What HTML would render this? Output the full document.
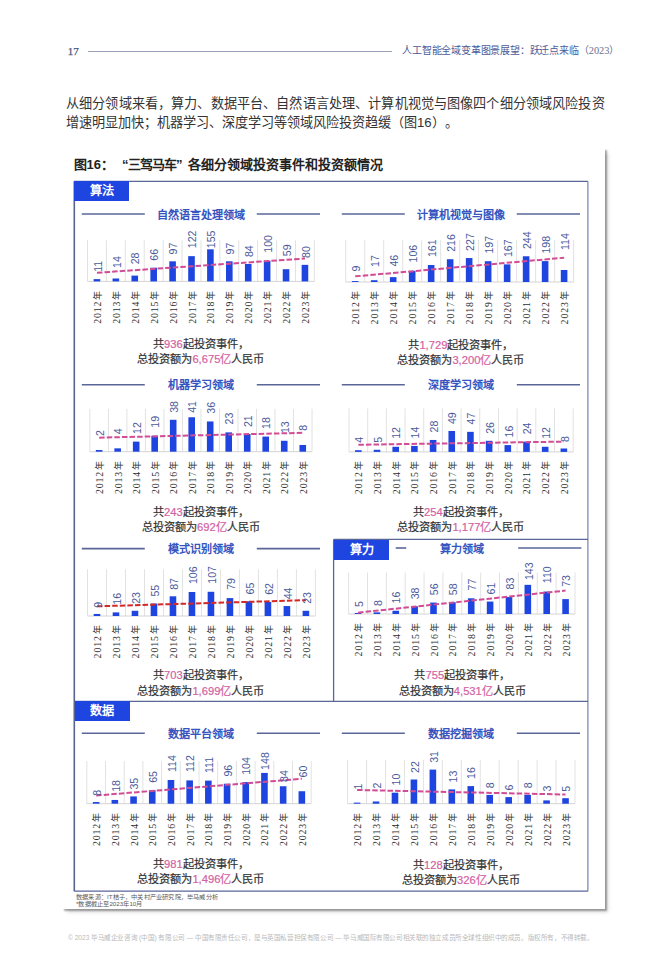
<!DOCTYPE html>
<html lang="zh-CN"><head><meta charset="utf-8"><style>
*{margin:0;padding:0;box-sizing:border-box}
html,body{width:670px;height:967px;background:#fff;overflow:hidden}
body{position:relative;font-family:"Liberation Sans",sans-serif;color:#333;text-spacing-trim:space-all}
.a{position:absolute;white-space:nowrap}
#hdr17{position:absolute;left:67.7px;top:46.2px;font:11px/1 "Liberation Serif",serif;color:#4a5680;-webkit-text-stroke:0.25px #4a5680}
#hdrline{position:absolute;left:88px;top:51px;width:304px;height:1.3px;background:#9ca1bc}
#hdrr{position:absolute;left:402.3px;top:45.5px;font-size:10px;letter-spacing:-0.2px;line-height:1;color:#4d5a98;white-space:nowrap}
#para{position:absolute;left:66px;top:95px;width:560px;font-size:13.15px;line-height:18.6px;letter-spacing:0.14px;color:#333;white-space:nowrap}
#card{position:absolute;left:62px;top:148px;width:543px;height:761px;background:#fff;box-shadow:2px 2px 1.5px rgba(0,0,0,.3), 4px 4px 4px -1px rgba(0,0,0,.16)}
.ft{position:absolute;top:157.5px;font-size:13px;font-weight:bold;color:#222;white-space:nowrap;line-height:1}
.lab{position:absolute;background:#1f45e0;color:#fff;font-weight:bold;font-size:12.2px;line-height:21px;text-align:center;width:55px;height:20px}
.pt{position:absolute;width:120px;text-align:center;font-size:11.1px;font-weight:bold;color:#3554c0;line-height:1;white-space:nowrap}
.sm{position:absolute;width:160px;text-align:center;font-size:11.2px;line-height:15.7px;-webkit-text-stroke:0.2px currentColor;color:#333;white-space:nowrap}
.pk{color:#d35fa3}
svg{position:absolute;left:0;top:0}
.vl{font-family:"Liberation Sans",sans-serif;font-size:10.6px;fill:#4a5a9c}
.yl{font-family:"Liberation Serif",serif;font-size:9.8px;letter-spacing:0.9px;fill:#2e2e2e}
#src{position:absolute;left:75.5px;top:893.3px;font-size:10px;line-height:12.2px;transform:scale(0.62);transform-origin:0 0;color:#5a5a5a;white-space:nowrap}
#foot{position:absolute;left:67.8px;top:935.4px;font-size:10px;line-height:1;transform:scale(0.658);transform-origin:0 0;color:#bababa;white-space:nowrap}
</style></head><body>
<div id="hdr17">17</div>
<div id="hdrline"></div>
<div id="hdrr">人工智能全域变革图景展望：跃迁点来临<span style="letter-spacing:0;color:#6a7090">（<span style="font-family:'Liberation Serif',serif;font-size:10.4px">2023</span>）</span></div>
<div id="para">从细分领域来看，算力、数据平台、自然语言处理、计算机视觉与图像四个细分领域风险投资<br><span style="letter-spacing:0">增速明显加快；机器学习、深度学习等领域风险投资趋缓（图16）。</span></div>
<div id="card"></div>
<div class="ft" style="left:73.5px">图16：</div><div class="ft" style="left:122px;letter-spacing:-0.9px">“三驾马车”</div><div class="ft" style="left:187.5px">各细分领域投资事件和投资额情况</div>
<svg width="670" height="967" viewBox="0 0 670 967">
<g fill="none" stroke="#5a6698" stroke-width="1.3">
<line x1="74.3" y1="181.3" x2="587.9" y2="181.3"/>
<line x1="74.3" y1="891.2" x2="587.9" y2="891.2"/>
<line x1="74.3" y1="181.3" x2="74.3" y2="891.2" stroke="#56648f" stroke-width="1.6"/>
<line x1="587.9" y1="181.3" x2="587.9" y2="891.2" stroke="#7880b0" stroke-width="1.2"/>
<line x1="333.6" y1="539.4" x2="587.9" y2="539.4"/>
<line x1="333.6" y1="539.4" x2="333.6" y2="701.3"/>
<line x1="74.5" y1="701.3" x2="587.9" y2="701.3"/>
</g>
<line x1="87.5" y1="240.2" x2="87.5" y2="281.4" stroke="#e2e2e2" stroke-width="1"/>
<line x1="106.41" y1="240.2" x2="106.41" y2="281.4" stroke="#e2e2e2" stroke-width="1"/>
<line x1="125.32" y1="240.2" x2="125.32" y2="281.4" stroke="#e2e2e2" stroke-width="1"/>
<line x1="144.22" y1="240.2" x2="144.22" y2="281.4" stroke="#e2e2e2" stroke-width="1"/>
<line x1="163.13" y1="240.2" x2="163.13" y2="281.4" stroke="#e2e2e2" stroke-width="1"/>
<line x1="182.04" y1="240.2" x2="182.04" y2="281.4" stroke="#e2e2e2" stroke-width="1"/>
<line x1="200.95" y1="240.2" x2="200.95" y2="281.4" stroke="#e2e2e2" stroke-width="1"/>
<line x1="219.86" y1="240.2" x2="219.86" y2="281.4" stroke="#e2e2e2" stroke-width="1"/>
<line x1="238.77" y1="240.2" x2="238.77" y2="281.4" stroke="#e2e2e2" stroke-width="1"/>
<line x1="257.67" y1="240.2" x2="257.67" y2="281.4" stroke="#e2e2e2" stroke-width="1"/>
<line x1="276.58" y1="240.2" x2="276.58" y2="281.4" stroke="#e2e2e2" stroke-width="1"/>
<line x1="295.49" y1="240.2" x2="295.49" y2="281.4" stroke="#e2e2e2" stroke-width="1"/>
<line x1="314.4" y1="240.2" x2="314.4" y2="281.4" stroke="#e2e2e2" stroke-width="1"/>
<line x1="87.5" y1="281.4" x2="314.4" y2="281.4" stroke="#d4d4d4" stroke-width="1"/>
<rect x="93.65" y="279.12" width="6.6" height="2.28" fill="#1f45e0"/>
<rect x="112.56" y="278.5" width="6.6" height="2.9" fill="#1f45e0"/>
<rect x="131.47" y="275.6" width="6.6" height="5.8" fill="#1f45e0"/>
<rect x="150.38" y="267.74" width="6.6" height="13.66" fill="#1f45e0"/>
<rect x="169.29" y="261.32" width="6.6" height="20.08" fill="#1f45e0"/>
<rect x="188.2" y="256.15" width="6.6" height="25.25" fill="#1f45e0"/>
<rect x="207.1" y="249.31" width="6.6" height="32.09" fill="#1f45e0"/>
<rect x="226.01" y="261.32" width="6.6" height="20.08" fill="#1f45e0"/>
<rect x="244.92" y="264.01" width="6.6" height="17.39" fill="#1f45e0"/>
<rect x="263.83" y="260.7" width="6.6" height="20.7" fill="#1f45e0"/>
<rect x="282.74" y="269.19" width="6.6" height="12.21" fill="#1f45e0"/>
<rect x="301.65" y="264.84" width="6.6" height="16.56" fill="#1f45e0"/>
<line x1="96.95" y1="272.78" x2="304.95" y2="258.52" stroke="#d24c94" stroke-width="2" stroke-dasharray="5.5 2.1"/>
<text transform="translate(101.65,271.8) rotate(-90)" class="vl">11</text>
<text transform="translate(120.56,267.9) rotate(-90)" class="vl">14</text>
<text transform="translate(139.47,264.3) rotate(-90)" class="vl">28</text>
<text transform="translate(158.38,260.7) rotate(-90)" class="vl">66</text>
<text transform="translate(177.29,254.5) rotate(-90)" class="vl">97</text>
<text transform="translate(196.2,248.2) rotate(-90)" class="vl">122</text>
<text transform="translate(215.1,248.2) rotate(-90)" class="vl">155</text>
<text transform="translate(234.01,254.5) rotate(-90)" class="vl">97</text>
<text transform="translate(252.92,257.1) rotate(-90)" class="vl">84</text>
<text transform="translate(271.83,252.7) rotate(-90)" class="vl">100</text>
<text transform="translate(290.74,256.2) rotate(-90)" class="vl">59</text>
<text transform="translate(309.65,258) rotate(-90)" class="vl">80</text>
<text transform="translate(100.95,289.7) rotate(-90)" class="yl" text-anchor="end">2012<tspan style="font-size:9px;font-family:sans-serif" dx="1">年</tspan></text>
<text transform="translate(119.86,289.7) rotate(-90)" class="yl" text-anchor="end">2013<tspan style="font-size:9px;font-family:sans-serif" dx="1">年</tspan></text>
<text transform="translate(138.77,289.7) rotate(-90)" class="yl" text-anchor="end">2014<tspan style="font-size:9px;font-family:sans-serif" dx="1">年</tspan></text>
<text transform="translate(157.68,289.7) rotate(-90)" class="yl" text-anchor="end">2015<tspan style="font-size:9px;font-family:sans-serif" dx="1">年</tspan></text>
<text transform="translate(176.59,289.7) rotate(-90)" class="yl" text-anchor="end">2016<tspan style="font-size:9px;font-family:sans-serif" dx="1">年</tspan></text>
<text transform="translate(195.5,289.7) rotate(-90)" class="yl" text-anchor="end">2017<tspan style="font-size:9px;font-family:sans-serif" dx="1">年</tspan></text>
<text transform="translate(214.4,289.7) rotate(-90)" class="yl" text-anchor="end">2018<tspan style="font-size:9px;font-family:sans-serif" dx="1">年</tspan></text>
<text transform="translate(233.31,289.7) rotate(-90)" class="yl" text-anchor="end">2019<tspan style="font-size:9px;font-family:sans-serif" dx="1">年</tspan></text>
<text transform="translate(252.22,289.7) rotate(-90)" class="yl" text-anchor="end">2020<tspan style="font-size:9px;font-family:sans-serif" dx="1">年</tspan></text>
<text transform="translate(271.13,289.7) rotate(-90)" class="yl" text-anchor="end">2021<tspan style="font-size:9px;font-family:sans-serif" dx="1">年</tspan></text>
<text transform="translate(290.04,289.7) rotate(-90)" class="yl" text-anchor="end">2022<tspan style="font-size:9px;font-family:sans-serif" dx="1">年</tspan></text>
<text transform="translate(308.95,289.7) rotate(-90)" class="yl" text-anchor="end">2023<tspan style="font-size:9px;font-family:sans-serif" dx="1">年</tspan></text>
<line x1="81.8" y1="214" x2="144.8" y2="214" stroke="#5a6698" stroke-width="1.6"/>
<line x1="256.8" y1="214" x2="320" y2="214" stroke="#5a6698" stroke-width="1.6"/>
<line x1="345.7" y1="240.1" x2="345.7" y2="282" stroke="#e2e2e2" stroke-width="1"/>
<line x1="364.69" y1="240.1" x2="364.69" y2="282" stroke="#e2e2e2" stroke-width="1"/>
<line x1="383.68" y1="240.1" x2="383.68" y2="282" stroke="#e2e2e2" stroke-width="1"/>
<line x1="402.68" y1="240.1" x2="402.68" y2="282" stroke="#e2e2e2" stroke-width="1"/>
<line x1="421.67" y1="240.1" x2="421.67" y2="282" stroke="#e2e2e2" stroke-width="1"/>
<line x1="440.66" y1="240.1" x2="440.66" y2="282" stroke="#e2e2e2" stroke-width="1"/>
<line x1="459.65" y1="240.1" x2="459.65" y2="282" stroke="#e2e2e2" stroke-width="1"/>
<line x1="478.64" y1="240.1" x2="478.64" y2="282" stroke="#e2e2e2" stroke-width="1"/>
<line x1="497.63" y1="240.1" x2="497.63" y2="282" stroke="#e2e2e2" stroke-width="1"/>
<line x1="516.62" y1="240.1" x2="516.62" y2="282" stroke="#e2e2e2" stroke-width="1"/>
<line x1="535.62" y1="240.1" x2="535.62" y2="282" stroke="#e2e2e2" stroke-width="1"/>
<line x1="554.61" y1="240.1" x2="554.61" y2="282" stroke="#e2e2e2" stroke-width="1"/>
<line x1="573.6" y1="240.1" x2="573.6" y2="282" stroke="#e2e2e2" stroke-width="1"/>
<line x1="345.7" y1="282" x2="573.6" y2="282" stroke="#d4d4d4" stroke-width="1"/>
<rect x="351.9" y="281.05" width="6.6" height="0.95" fill="#1f45e0"/>
<rect x="370.89" y="280.21" width="6.6" height="1.79" fill="#1f45e0"/>
<rect x="389.88" y="277.15" width="6.6" height="4.85" fill="#1f45e0"/>
<rect x="408.87" y="270.82" width="6.6" height="11.18" fill="#1f45e0"/>
<rect x="427.86" y="265.01" width="6.6" height="16.99" fill="#1f45e0"/>
<rect x="446.85" y="259.21" width="6.6" height="22.79" fill="#1f45e0"/>
<rect x="465.85" y="258.05" width="6.6" height="23.95" fill="#1f45e0"/>
<rect x="484.84" y="261.22" width="6.6" height="20.78" fill="#1f45e0"/>
<rect x="503.83" y="264.38" width="6.6" height="17.62" fill="#1f45e0"/>
<rect x="522.82" y="256.26" width="6.6" height="25.74" fill="#1f45e0"/>
<rect x="541.81" y="261.11" width="6.6" height="20.89" fill="#1f45e0"/>
<rect x="560.8" y="269.97" width="6.6" height="12.03" fill="#1f45e0"/>
<line x1="355.2" y1="276.36" x2="564.1" y2="257.72" stroke="#d24c94" stroke-width="2" stroke-dasharray="5.5 2.1"/>
<text transform="translate(359.9,271.5) rotate(-90)" class="vl">9</text>
<text transform="translate(378.89,267) rotate(-90)" class="vl">17</text>
<text transform="translate(397.88,266.6) rotate(-90)" class="vl">46</text>
<text transform="translate(416.87,262.5) rotate(-90)" class="vl">106</text>
<text transform="translate(435.86,257.1) rotate(-90)" class="vl">161</text>
<text transform="translate(454.85,251.8) rotate(-90)" class="vl">216</text>
<text transform="translate(473.85,250.9) rotate(-90)" class="vl">227</text>
<text transform="translate(492.84,253.6) rotate(-90)" class="vl">197</text>
<text transform="translate(511.83,257.1) rotate(-90)" class="vl">167</text>
<text transform="translate(530.82,249.1) rotate(-90)" class="vl">244</text>
<text transform="translate(549.81,253.6) rotate(-90)" class="vl">198</text>
<text transform="translate(568.8,250) rotate(-90)" class="vl">114</text>
<text transform="translate(359.2,290.3) rotate(-90)" class="yl" text-anchor="end">2012<tspan style="font-size:9px;font-family:sans-serif" dx="1">年</tspan></text>
<text transform="translate(378.19,290.3) rotate(-90)" class="yl" text-anchor="end">2013<tspan style="font-size:9px;font-family:sans-serif" dx="1">年</tspan></text>
<text transform="translate(397.18,290.3) rotate(-90)" class="yl" text-anchor="end">2014<tspan style="font-size:9px;font-family:sans-serif" dx="1">年</tspan></text>
<text transform="translate(416.17,290.3) rotate(-90)" class="yl" text-anchor="end">2015<tspan style="font-size:9px;font-family:sans-serif" dx="1">年</tspan></text>
<text transform="translate(435.16,290.3) rotate(-90)" class="yl" text-anchor="end">2016<tspan style="font-size:9px;font-family:sans-serif" dx="1">年</tspan></text>
<text transform="translate(454.15,290.3) rotate(-90)" class="yl" text-anchor="end">2017<tspan style="font-size:9px;font-family:sans-serif" dx="1">年</tspan></text>
<text transform="translate(473.15,290.3) rotate(-90)" class="yl" text-anchor="end">2018<tspan style="font-size:9px;font-family:sans-serif" dx="1">年</tspan></text>
<text transform="translate(492.14,290.3) rotate(-90)" class="yl" text-anchor="end">2019<tspan style="font-size:9px;font-family:sans-serif" dx="1">年</tspan></text>
<text transform="translate(511.13,290.3) rotate(-90)" class="yl" text-anchor="end">2020<tspan style="font-size:9px;font-family:sans-serif" dx="1">年</tspan></text>
<text transform="translate(530.12,290.3) rotate(-90)" class="yl" text-anchor="end">2021<tspan style="font-size:9px;font-family:sans-serif" dx="1">年</tspan></text>
<text transform="translate(549.11,290.3) rotate(-90)" class="yl" text-anchor="end">2022<tspan style="font-size:9px;font-family:sans-serif" dx="1">年</tspan></text>
<text transform="translate(568.1,290.3) rotate(-90)" class="yl" text-anchor="end">2023<tspan style="font-size:9px;font-family:sans-serif" dx="1">年</tspan></text>
<line x1="341.8" y1="214" x2="404.8" y2="214" stroke="#5a6698" stroke-width="1.6"/>
<line x1="516.8" y1="214" x2="580" y2="214" stroke="#5a6698" stroke-width="1.6"/>
<line x1="89.9" y1="408.8" x2="89.9" y2="451.7" stroke="#e2e2e2" stroke-width="1"/>
<line x1="108.41" y1="408.8" x2="108.41" y2="451.7" stroke="#e2e2e2" stroke-width="1"/>
<line x1="126.92" y1="408.8" x2="126.92" y2="451.7" stroke="#e2e2e2" stroke-width="1"/>
<line x1="145.43" y1="408.8" x2="145.43" y2="451.7" stroke="#e2e2e2" stroke-width="1"/>
<line x1="163.93" y1="408.8" x2="163.93" y2="451.7" stroke="#e2e2e2" stroke-width="1"/>
<line x1="182.44" y1="408.8" x2="182.44" y2="451.7" stroke="#e2e2e2" stroke-width="1"/>
<line x1="200.95" y1="408.8" x2="200.95" y2="451.7" stroke="#e2e2e2" stroke-width="1"/>
<line x1="219.46" y1="408.8" x2="219.46" y2="451.7" stroke="#e2e2e2" stroke-width="1"/>
<line x1="237.97" y1="408.8" x2="237.97" y2="451.7" stroke="#e2e2e2" stroke-width="1"/>
<line x1="256.48" y1="408.8" x2="256.48" y2="451.7" stroke="#e2e2e2" stroke-width="1"/>
<line x1="274.98" y1="408.8" x2="274.98" y2="451.7" stroke="#e2e2e2" stroke-width="1"/>
<line x1="293.49" y1="408.8" x2="293.49" y2="451.7" stroke="#e2e2e2" stroke-width="1"/>
<line x1="312" y1="408.8" x2="312" y2="451.7" stroke="#e2e2e2" stroke-width="1"/>
<line x1="89.9" y1="451.7" x2="312" y2="451.7" stroke="#d4d4d4" stroke-width="1"/>
<rect x="95.85" y="450.02" width="6.6" height="1.68" fill="#1f45e0"/>
<rect x="114.36" y="448.34" width="6.6" height="3.36" fill="#1f45e0"/>
<rect x="132.87" y="441.62" width="6.6" height="10.08" fill="#1f45e0"/>
<rect x="151.38" y="435.74" width="6.6" height="15.96" fill="#1f45e0"/>
<rect x="169.89" y="419.78" width="6.6" height="31.92" fill="#1f45e0"/>
<rect x="188.4" y="417.26" width="6.6" height="34.44" fill="#1f45e0"/>
<rect x="206.9" y="421.46" width="6.6" height="30.24" fill="#1f45e0"/>
<rect x="225.41" y="432.38" width="6.6" height="19.32" fill="#1f45e0"/>
<rect x="243.92" y="434.06" width="6.6" height="17.64" fill="#1f45e0"/>
<rect x="262.43" y="436.58" width="6.6" height="15.12" fill="#1f45e0"/>
<rect x="280.94" y="440.78" width="6.6" height="10.92" fill="#1f45e0"/>
<rect x="299.45" y="444.98" width="6.6" height="6.72" fill="#1f45e0"/>
<line x1="99.15" y1="437.66" x2="302.75" y2="432.84" stroke="#d24c94" stroke-width="2" stroke-dasharray="5.5 2.1"/>
<text transform="translate(103.85,436.1) rotate(-90)" class="vl">2</text>
<text transform="translate(122.36,434.3) rotate(-90)" class="vl">4</text>
<text transform="translate(140.87,434) rotate(-90)" class="vl">12</text>
<text transform="translate(159.38,427.7) rotate(-90)" class="vl">19</text>
<text transform="translate(177.89,412.8) rotate(-90)" class="vl">38</text>
<text transform="translate(196.4,412.8) rotate(-90)" class="vl">41</text>
<text transform="translate(214.9,413.7) rotate(-90)" class="vl">36</text>
<text transform="translate(233.41,424.5) rotate(-90)" class="vl">23</text>
<text transform="translate(251.92,427.1) rotate(-90)" class="vl">21</text>
<text transform="translate(270.43,428.9) rotate(-90)" class="vl">18</text>
<text transform="translate(288.94,433.1) rotate(-90)" class="vl">13</text>
<text transform="translate(307.45,430.8) rotate(-90)" class="vl">8</text>
<text transform="translate(103.15,460) rotate(-90)" class="yl" text-anchor="end">2012<tspan style="font-size:9px;font-family:sans-serif" dx="1">年</tspan></text>
<text transform="translate(121.66,460) rotate(-90)" class="yl" text-anchor="end">2013<tspan style="font-size:9px;font-family:sans-serif" dx="1">年</tspan></text>
<text transform="translate(140.17,460) rotate(-90)" class="yl" text-anchor="end">2014<tspan style="font-size:9px;font-family:sans-serif" dx="1">年</tspan></text>
<text transform="translate(158.68,460) rotate(-90)" class="yl" text-anchor="end">2015<tspan style="font-size:9px;font-family:sans-serif" dx="1">年</tspan></text>
<text transform="translate(177.19,460) rotate(-90)" class="yl" text-anchor="end">2016<tspan style="font-size:9px;font-family:sans-serif" dx="1">年</tspan></text>
<text transform="translate(195.7,460) rotate(-90)" class="yl" text-anchor="end">2017<tspan style="font-size:9px;font-family:sans-serif" dx="1">年</tspan></text>
<text transform="translate(214.2,460) rotate(-90)" class="yl" text-anchor="end">2018<tspan style="font-size:9px;font-family:sans-serif" dx="1">年</tspan></text>
<text transform="translate(232.71,460) rotate(-90)" class="yl" text-anchor="end">2019<tspan style="font-size:9px;font-family:sans-serif" dx="1">年</tspan></text>
<text transform="translate(251.22,460) rotate(-90)" class="yl" text-anchor="end">2020<tspan style="font-size:9px;font-family:sans-serif" dx="1">年</tspan></text>
<text transform="translate(269.73,460) rotate(-90)" class="yl" text-anchor="end">2021<tspan style="font-size:9px;font-family:sans-serif" dx="1">年</tspan></text>
<text transform="translate(288.24,460) rotate(-90)" class="yl" text-anchor="end">2022<tspan style="font-size:9px;font-family:sans-serif" dx="1">年</tspan></text>
<text transform="translate(306.75,460) rotate(-90)" class="yl" text-anchor="end">2023<tspan style="font-size:9px;font-family:sans-serif" dx="1">年</tspan></text>
<line x1="81.8" y1="384.7" x2="144.8" y2="384.7" stroke="#5a6698" stroke-width="1.6"/>
<line x1="256.8" y1="384.7" x2="320" y2="384.7" stroke="#5a6698" stroke-width="1.6"/>
<line x1="349" y1="408.4" x2="349" y2="451.9" stroke="#e2e2e2" stroke-width="1"/>
<line x1="367.68" y1="408.4" x2="367.68" y2="451.9" stroke="#e2e2e2" stroke-width="1"/>
<line x1="386.37" y1="408.4" x2="386.37" y2="451.9" stroke="#e2e2e2" stroke-width="1"/>
<line x1="405.05" y1="408.4" x2="405.05" y2="451.9" stroke="#e2e2e2" stroke-width="1"/>
<line x1="423.73" y1="408.4" x2="423.73" y2="451.9" stroke="#e2e2e2" stroke-width="1"/>
<line x1="442.42" y1="408.4" x2="442.42" y2="451.9" stroke="#e2e2e2" stroke-width="1"/>
<line x1="461.1" y1="408.4" x2="461.1" y2="451.9" stroke="#e2e2e2" stroke-width="1"/>
<line x1="479.78" y1="408.4" x2="479.78" y2="451.9" stroke="#e2e2e2" stroke-width="1"/>
<line x1="498.47" y1="408.4" x2="498.47" y2="451.9" stroke="#e2e2e2" stroke-width="1"/>
<line x1="517.15" y1="408.4" x2="517.15" y2="451.9" stroke="#e2e2e2" stroke-width="1"/>
<line x1="535.83" y1="408.4" x2="535.83" y2="451.9" stroke="#e2e2e2" stroke-width="1"/>
<line x1="554.52" y1="408.4" x2="554.52" y2="451.9" stroke="#e2e2e2" stroke-width="1"/>
<line x1="573.2" y1="408.4" x2="573.2" y2="451.9" stroke="#e2e2e2" stroke-width="1"/>
<line x1="349" y1="451.9" x2="573.2" y2="451.9" stroke="#d4d4d4" stroke-width="1"/>
<rect x="355.04" y="450.19" width="6.6" height="1.71" fill="#1f45e0"/>
<rect x="373.72" y="449.77" width="6.6" height="2.13" fill="#1f45e0"/>
<rect x="392.41" y="446.78" width="6.6" height="5.12" fill="#1f45e0"/>
<rect x="411.09" y="445.93" width="6.6" height="5.97" fill="#1f45e0"/>
<rect x="429.78" y="439.96" width="6.6" height="11.94" fill="#1f45e0"/>
<rect x="448.46" y="431" width="6.6" height="20.9" fill="#1f45e0"/>
<rect x="467.14" y="431.85" width="6.6" height="20.05" fill="#1f45e0"/>
<rect x="485.82" y="440.81" width="6.6" height="11.09" fill="#1f45e0"/>
<rect x="504.51" y="445.08" width="6.6" height="6.82" fill="#1f45e0"/>
<rect x="523.19" y="441.66" width="6.6" height="10.24" fill="#1f45e0"/>
<rect x="541.88" y="446.78" width="6.6" height="5.12" fill="#1f45e0"/>
<rect x="560.56" y="448.49" width="6.6" height="3.41" fill="#1f45e0"/>
<line x1="358.34" y1="444.78" x2="563.86" y2="441.61" stroke="#d24c94" stroke-width="2" stroke-dasharray="5.5 2.1"/>
<text transform="translate(363.04,442.7) rotate(-90)" class="vl">4</text>
<text transform="translate(381.72,442.7) rotate(-90)" class="vl">5</text>
<text transform="translate(400.41,438.8) rotate(-90)" class="vl">12</text>
<text transform="translate(419.09,438.4) rotate(-90)" class="vl">14</text>
<text transform="translate(437.78,432.5) rotate(-90)" class="vl">28</text>
<text transform="translate(456.46,424.1) rotate(-90)" class="vl">49</text>
<text transform="translate(475.14,424.5) rotate(-90)" class="vl">47</text>
<text transform="translate(493.82,433.8) rotate(-90)" class="vl">26</text>
<text transform="translate(512.51,437.4) rotate(-90)" class="vl">16</text>
<text transform="translate(531.19,434.3) rotate(-90)" class="vl">24</text>
<text transform="translate(549.88,438.8) rotate(-90)" class="vl">12</text>
<text transform="translate(568.56,442) rotate(-90)" class="vl">8</text>
<text transform="translate(362.34,460.2) rotate(-90)" class="yl" text-anchor="end">2012<tspan style="font-size:9px;font-family:sans-serif" dx="1">年</tspan></text>
<text transform="translate(381.02,460.2) rotate(-90)" class="yl" text-anchor="end">2013<tspan style="font-size:9px;font-family:sans-serif" dx="1">年</tspan></text>
<text transform="translate(399.71,460.2) rotate(-90)" class="yl" text-anchor="end">2014<tspan style="font-size:9px;font-family:sans-serif" dx="1">年</tspan></text>
<text transform="translate(418.39,460.2) rotate(-90)" class="yl" text-anchor="end">2015<tspan style="font-size:9px;font-family:sans-serif" dx="1">年</tspan></text>
<text transform="translate(437.08,460.2) rotate(-90)" class="yl" text-anchor="end">2016<tspan style="font-size:9px;font-family:sans-serif" dx="1">年</tspan></text>
<text transform="translate(455.76,460.2) rotate(-90)" class="yl" text-anchor="end">2017<tspan style="font-size:9px;font-family:sans-serif" dx="1">年</tspan></text>
<text transform="translate(474.44,460.2) rotate(-90)" class="yl" text-anchor="end">2018<tspan style="font-size:9px;font-family:sans-serif" dx="1">年</tspan></text>
<text transform="translate(493.12,460.2) rotate(-90)" class="yl" text-anchor="end">2019<tspan style="font-size:9px;font-family:sans-serif" dx="1">年</tspan></text>
<text transform="translate(511.81,460.2) rotate(-90)" class="yl" text-anchor="end">2020<tspan style="font-size:9px;font-family:sans-serif" dx="1">年</tspan></text>
<text transform="translate(530.49,460.2) rotate(-90)" class="yl" text-anchor="end">2021<tspan style="font-size:9px;font-family:sans-serif" dx="1">年</tspan></text>
<text transform="translate(549.18,460.2) rotate(-90)" class="yl" text-anchor="end">2022<tspan style="font-size:9px;font-family:sans-serif" dx="1">年</tspan></text>
<text transform="translate(567.86,460.2) rotate(-90)" class="yl" text-anchor="end">2023<tspan style="font-size:9px;font-family:sans-serif" dx="1">年</tspan></text>
<line x1="341.8" y1="384.7" x2="404.8" y2="384.7" stroke="#5a6698" stroke-width="1.6"/>
<line x1="516.8" y1="384.7" x2="580" y2="384.7" stroke="#5a6698" stroke-width="1.6"/>
<line x1="87.5" y1="569.3" x2="87.5" y2="616" stroke="#e2e2e2" stroke-width="1"/>
<line x1="106.49" y1="569.3" x2="106.49" y2="616" stroke="#e2e2e2" stroke-width="1"/>
<line x1="125.48" y1="569.3" x2="125.48" y2="616" stroke="#e2e2e2" stroke-width="1"/>
<line x1="144.47" y1="569.3" x2="144.47" y2="616" stroke="#e2e2e2" stroke-width="1"/>
<line x1="163.47" y1="569.3" x2="163.47" y2="616" stroke="#e2e2e2" stroke-width="1"/>
<line x1="182.46" y1="569.3" x2="182.46" y2="616" stroke="#e2e2e2" stroke-width="1"/>
<line x1="201.45" y1="569.3" x2="201.45" y2="616" stroke="#e2e2e2" stroke-width="1"/>
<line x1="220.44" y1="569.3" x2="220.44" y2="616" stroke="#e2e2e2" stroke-width="1"/>
<line x1="239.43" y1="569.3" x2="239.43" y2="616" stroke="#e2e2e2" stroke-width="1"/>
<line x1="258.42" y1="569.3" x2="258.42" y2="616" stroke="#e2e2e2" stroke-width="1"/>
<line x1="277.42" y1="569.3" x2="277.42" y2="616" stroke="#e2e2e2" stroke-width="1"/>
<line x1="296.41" y1="569.3" x2="296.41" y2="616" stroke="#e2e2e2" stroke-width="1"/>
<line x1="315.4" y1="569.3" x2="315.4" y2="616" stroke="#e2e2e2" stroke-width="1"/>
<line x1="87.5" y1="616" x2="315.4" y2="616" stroke="#d4d4d4" stroke-width="1"/>
<rect x="93.7" y="613.96" width="6.6" height="2.04" fill="#1f45e0"/>
<rect x="112.69" y="612.38" width="6.6" height="3.62" fill="#1f45e0"/>
<rect x="131.68" y="610.79" width="6.6" height="5.21" fill="#1f45e0"/>
<rect x="150.67" y="603.55" width="6.6" height="12.45" fill="#1f45e0"/>
<rect x="169.66" y="596.3" width="6.6" height="19.7" fill="#1f45e0"/>
<rect x="188.65" y="592" width="6.6" height="24" fill="#1f45e0"/>
<rect x="207.65" y="591.78" width="6.6" height="24.22" fill="#1f45e0"/>
<rect x="226.64" y="598.11" width="6.6" height="17.89" fill="#1f45e0"/>
<rect x="245.63" y="601.28" width="6.6" height="14.72" fill="#1f45e0"/>
<rect x="264.62" y="601.96" width="6.6" height="14.04" fill="#1f45e0"/>
<rect x="283.61" y="606.04" width="6.6" height="9.96" fill="#1f45e0"/>
<rect x="302.6" y="610.79" width="6.6" height="5.21" fill="#1f45e0"/>
<line x1="97" y1="606.32" x2="305.9" y2="600.17" stroke="#d42828" stroke-width="2" stroke-dasharray="5.5 2.1"/>
<text transform="translate(101.7,607.7) rotate(-90)" class="vl">9</text>
<text transform="translate(120.69,604.7) rotate(-90)" class="vl">16</text>
<text transform="translate(139.68,603.8) rotate(-90)" class="vl">23</text>
<text transform="translate(158.67,596.6) rotate(-90)" class="vl">55</text>
<text transform="translate(177.66,589.8) rotate(-90)" class="vl">87</text>
<text transform="translate(196.65,584.1) rotate(-90)" class="vl">106</text>
<text transform="translate(215.65,583.7) rotate(-90)" class="vl">107</text>
<text transform="translate(234.64,589.8) rotate(-90)" class="vl">79</text>
<text transform="translate(253.63,594.5) rotate(-90)" class="vl">65</text>
<text transform="translate(272.62,594.8) rotate(-90)" class="vl">62</text>
<text transform="translate(291.61,599.3) rotate(-90)" class="vl">44</text>
<text transform="translate(310.6,603.8) rotate(-90)" class="vl">23</text>
<text transform="translate(101,624.3) rotate(-90)" class="yl" text-anchor="end">2012<tspan style="font-size:9px;font-family:sans-serif" dx="1">年</tspan></text>
<text transform="translate(119.99,624.3) rotate(-90)" class="yl" text-anchor="end">2013<tspan style="font-size:9px;font-family:sans-serif" dx="1">年</tspan></text>
<text transform="translate(138.98,624.3) rotate(-90)" class="yl" text-anchor="end">2014<tspan style="font-size:9px;font-family:sans-serif" dx="1">年</tspan></text>
<text transform="translate(157.97,624.3) rotate(-90)" class="yl" text-anchor="end">2015<tspan style="font-size:9px;font-family:sans-serif" dx="1">年</tspan></text>
<text transform="translate(176.96,624.3) rotate(-90)" class="yl" text-anchor="end">2016<tspan style="font-size:9px;font-family:sans-serif" dx="1">年</tspan></text>
<text transform="translate(195.95,624.3) rotate(-90)" class="yl" text-anchor="end">2017<tspan style="font-size:9px;font-family:sans-serif" dx="1">年</tspan></text>
<text transform="translate(214.95,624.3) rotate(-90)" class="yl" text-anchor="end">2018<tspan style="font-size:9px;font-family:sans-serif" dx="1">年</tspan></text>
<text transform="translate(233.94,624.3) rotate(-90)" class="yl" text-anchor="end">2019<tspan style="font-size:9px;font-family:sans-serif" dx="1">年</tspan></text>
<text transform="translate(252.93,624.3) rotate(-90)" class="yl" text-anchor="end">2020<tspan style="font-size:9px;font-family:sans-serif" dx="1">年</tspan></text>
<text transform="translate(271.92,624.3) rotate(-90)" class="yl" text-anchor="end">2021<tspan style="font-size:9px;font-family:sans-serif" dx="1">年</tspan></text>
<text transform="translate(290.91,624.3) rotate(-90)" class="yl" text-anchor="end">2022<tspan style="font-size:9px;font-family:sans-serif" dx="1">年</tspan></text>
<text transform="translate(309.9,624.3) rotate(-90)" class="yl" text-anchor="end">2023<tspan style="font-size:9px;font-family:sans-serif" dx="1">年</tspan></text>
<line x1="81.8" y1="548.6" x2="144.8" y2="548.6" stroke="#5a6698" stroke-width="1.6"/>
<line x1="256.8" y1="548.6" x2="320" y2="548.6" stroke="#5a6698" stroke-width="1.6"/>
<line x1="348.6" y1="572.5" x2="348.6" y2="614" stroke="#e2e2e2" stroke-width="1"/>
<line x1="367.47" y1="572.5" x2="367.47" y2="614" stroke="#e2e2e2" stroke-width="1"/>
<line x1="386.33" y1="572.5" x2="386.33" y2="614" stroke="#e2e2e2" stroke-width="1"/>
<line x1="405.2" y1="572.5" x2="405.2" y2="614" stroke="#e2e2e2" stroke-width="1"/>
<line x1="424.07" y1="572.5" x2="424.07" y2="614" stroke="#e2e2e2" stroke-width="1"/>
<line x1="442.93" y1="572.5" x2="442.93" y2="614" stroke="#e2e2e2" stroke-width="1"/>
<line x1="461.8" y1="572.5" x2="461.8" y2="614" stroke="#e2e2e2" stroke-width="1"/>
<line x1="480.67" y1="572.5" x2="480.67" y2="614" stroke="#e2e2e2" stroke-width="1"/>
<line x1="499.53" y1="572.5" x2="499.53" y2="614" stroke="#e2e2e2" stroke-width="1"/>
<line x1="518.4" y1="572.5" x2="518.4" y2="614" stroke="#e2e2e2" stroke-width="1"/>
<line x1="537.27" y1="572.5" x2="537.27" y2="614" stroke="#e2e2e2" stroke-width="1"/>
<line x1="556.13" y1="572.5" x2="556.13" y2="614" stroke="#e2e2e2" stroke-width="1"/>
<line x1="575" y1="572.5" x2="575" y2="614" stroke="#e2e2e2" stroke-width="1"/>
<line x1="348.6" y1="614" x2="575" y2="614" stroke="#d4d4d4" stroke-width="1"/>
<rect x="354.73" y="612.98" width="6.6" height="1.02" fill="#1f45e0"/>
<rect x="373.6" y="612.37" width="6.6" height="1.63" fill="#1f45e0"/>
<rect x="392.47" y="610.74" width="6.6" height="3.26" fill="#1f45e0"/>
<rect x="411.33" y="606.25" width="6.6" height="7.75" fill="#1f45e0"/>
<rect x="430.2" y="602.58" width="6.6" height="11.42" fill="#1f45e0"/>
<rect x="449.07" y="602.17" width="6.6" height="11.83" fill="#1f45e0"/>
<rect x="467.93" y="598.29" width="6.6" height="15.71" fill="#1f45e0"/>
<rect x="486.8" y="601.56" width="6.6" height="12.44" fill="#1f45e0"/>
<rect x="505.67" y="597.07" width="6.6" height="16.93" fill="#1f45e0"/>
<rect x="524.53" y="584.83" width="6.6" height="29.17" fill="#1f45e0"/>
<rect x="543.4" y="591.56" width="6.6" height="22.44" fill="#1f45e0"/>
<rect x="562.27" y="599.11" width="6.6" height="14.89" fill="#1f45e0"/>
<line x1="358.03" y1="612.66" x2="565.57" y2="590.58" stroke="#d24c94" stroke-width="2" stroke-dasharray="5.5 2.1"/>
<text transform="translate(362.73,607) rotate(-90)" class="vl">5</text>
<text transform="translate(381.6,605.9) rotate(-90)" class="vl">8</text>
<text transform="translate(400.47,603.4) rotate(-90)" class="vl">16</text>
<text transform="translate(419.33,599.3) rotate(-90)" class="vl">38</text>
<text transform="translate(438.2,595.2) rotate(-90)" class="vl">56</text>
<text transform="translate(457.07,595.2) rotate(-90)" class="vl">58</text>
<text transform="translate(475.93,590.4) rotate(-90)" class="vl">77</text>
<text transform="translate(494.8,594.5) rotate(-90)" class="vl">61</text>
<text transform="translate(513.67,589.5) rotate(-90)" class="vl">83</text>
<text transform="translate(532.53,580.1) rotate(-90)" class="vl">143</text>
<text transform="translate(551.4,583.2) rotate(-90)" class="vl">110</text>
<text transform="translate(570.27,586.8) rotate(-90)" class="vl">73</text>
<text transform="translate(362.03,622.3) rotate(-90)" class="yl" text-anchor="end">2012<tspan style="font-size:9px;font-family:sans-serif" dx="1">年</tspan></text>
<text transform="translate(380.9,622.3) rotate(-90)" class="yl" text-anchor="end">2013<tspan style="font-size:9px;font-family:sans-serif" dx="1">年</tspan></text>
<text transform="translate(399.77,622.3) rotate(-90)" class="yl" text-anchor="end">2014<tspan style="font-size:9px;font-family:sans-serif" dx="1">年</tspan></text>
<text transform="translate(418.63,622.3) rotate(-90)" class="yl" text-anchor="end">2015<tspan style="font-size:9px;font-family:sans-serif" dx="1">年</tspan></text>
<text transform="translate(437.5,622.3) rotate(-90)" class="yl" text-anchor="end">2016<tspan style="font-size:9px;font-family:sans-serif" dx="1">年</tspan></text>
<text transform="translate(456.37,622.3) rotate(-90)" class="yl" text-anchor="end">2017<tspan style="font-size:9px;font-family:sans-serif" dx="1">年</tspan></text>
<text transform="translate(475.23,622.3) rotate(-90)" class="yl" text-anchor="end">2018<tspan style="font-size:9px;font-family:sans-serif" dx="1">年</tspan></text>
<text transform="translate(494.1,622.3) rotate(-90)" class="yl" text-anchor="end">2019<tspan style="font-size:9px;font-family:sans-serif" dx="1">年</tspan></text>
<text transform="translate(512.97,622.3) rotate(-90)" class="yl" text-anchor="end">2020<tspan style="font-size:9px;font-family:sans-serif" dx="1">年</tspan></text>
<text transform="translate(531.83,622.3) rotate(-90)" class="yl" text-anchor="end">2021<tspan style="font-size:9px;font-family:sans-serif" dx="1">年</tspan></text>
<text transform="translate(550.7,622.3) rotate(-90)" class="yl" text-anchor="end">2022<tspan style="font-size:9px;font-family:sans-serif" dx="1">年</tspan></text>
<text transform="translate(569.57,622.3) rotate(-90)" class="yl" text-anchor="end">2023<tspan style="font-size:9px;font-family:sans-serif" dx="1">年</tspan></text>
<line x1="395.7" y1="548" x2="406.2" y2="548" stroke="#5a6698" stroke-width="1.6"/>
<line x1="518.2" y1="548" x2="581.4" y2="548" stroke="#5a6698" stroke-width="1.6"/>
<line x1="86.8" y1="761.1" x2="86.8" y2="803.7" stroke="#e2e2e2" stroke-width="1"/>
<line x1="105.5" y1="761.1" x2="105.5" y2="803.7" stroke="#e2e2e2" stroke-width="1"/>
<line x1="124.2" y1="761.1" x2="124.2" y2="803.7" stroke="#e2e2e2" stroke-width="1"/>
<line x1="142.9" y1="761.1" x2="142.9" y2="803.7" stroke="#e2e2e2" stroke-width="1"/>
<line x1="161.6" y1="761.1" x2="161.6" y2="803.7" stroke="#e2e2e2" stroke-width="1"/>
<line x1="180.3" y1="761.1" x2="180.3" y2="803.7" stroke="#e2e2e2" stroke-width="1"/>
<line x1="199" y1="761.1" x2="199" y2="803.7" stroke="#e2e2e2" stroke-width="1"/>
<line x1="217.7" y1="761.1" x2="217.7" y2="803.7" stroke="#e2e2e2" stroke-width="1"/>
<line x1="236.4" y1="761.1" x2="236.4" y2="803.7" stroke="#e2e2e2" stroke-width="1"/>
<line x1="255.1" y1="761.1" x2="255.1" y2="803.7" stroke="#e2e2e2" stroke-width="1"/>
<line x1="273.8" y1="761.1" x2="273.8" y2="803.7" stroke="#e2e2e2" stroke-width="1"/>
<line x1="292.5" y1="761.1" x2="292.5" y2="803.7" stroke="#e2e2e2" stroke-width="1"/>
<line x1="311.2" y1="761.1" x2="311.2" y2="803.7" stroke="#e2e2e2" stroke-width="1"/>
<line x1="86.8" y1="803.7" x2="311.2" y2="803.7" stroke="#d4d4d4" stroke-width="1"/>
<rect x="92.85" y="802.04" width="6.6" height="1.66" fill="#1f45e0"/>
<rect x="111.55" y="799.96" width="6.6" height="3.74" fill="#1f45e0"/>
<rect x="130.25" y="796.42" width="6.6" height="7.28" fill="#1f45e0"/>
<rect x="148.95" y="790.18" width="6.6" height="13.52" fill="#1f45e0"/>
<rect x="167.65" y="779.99" width="6.6" height="23.71" fill="#1f45e0"/>
<rect x="186.35" y="780.4" width="6.6" height="23.3" fill="#1f45e0"/>
<rect x="205.05" y="780.61" width="6.6" height="23.09" fill="#1f45e0"/>
<rect x="223.75" y="783.73" width="6.6" height="19.97" fill="#1f45e0"/>
<rect x="242.45" y="782.07" width="6.6" height="21.63" fill="#1f45e0"/>
<rect x="261.15" y="772.92" width="6.6" height="30.78" fill="#1f45e0"/>
<rect x="279.85" y="786.23" width="6.6" height="17.47" fill="#1f45e0"/>
<rect x="298.55" y="791.22" width="6.6" height="12.48" fill="#1f45e0"/>
<line x1="96.15" y1="795.53" x2="301.85" y2="778.76" stroke="#d24c94" stroke-width="2" stroke-dasharray="5.5 2.1"/>
<text transform="translate(100.85,795.7) rotate(-90)" class="vl">8</text>
<text transform="translate(119.55,791.8) rotate(-90)" class="vl">18</text>
<text transform="translate(138.25,789.6) rotate(-90)" class="vl">35</text>
<text transform="translate(156.95,782.8) rotate(-90)" class="vl">65</text>
<text transform="translate(175.65,772.1) rotate(-90)" class="vl">114</text>
<text transform="translate(194.35,772.1) rotate(-90)" class="vl">112</text>
<text transform="translate(213.05,773) rotate(-90)" class="vl">111</text>
<text transform="translate(231.75,776.6) rotate(-90)" class="vl">96</text>
<text transform="translate(250.45,774.8) rotate(-90)" class="vl">104</text>
<text transform="translate(269.15,769.9) rotate(-90)" class="vl">148</text>
<text transform="translate(287.85,781.9) rotate(-90)" class="vl">84</text>
<text transform="translate(306.55,777.5) rotate(-90)" class="vl">60</text>
<text transform="translate(100.15,812) rotate(-90)" class="yl" text-anchor="end">2012<tspan style="font-size:9px;font-family:sans-serif" dx="1">年</tspan></text>
<text transform="translate(118.85,812) rotate(-90)" class="yl" text-anchor="end">2013<tspan style="font-size:9px;font-family:sans-serif" dx="1">年</tspan></text>
<text transform="translate(137.55,812) rotate(-90)" class="yl" text-anchor="end">2014<tspan style="font-size:9px;font-family:sans-serif" dx="1">年</tspan></text>
<text transform="translate(156.25,812) rotate(-90)" class="yl" text-anchor="end">2015<tspan style="font-size:9px;font-family:sans-serif" dx="1">年</tspan></text>
<text transform="translate(174.95,812) rotate(-90)" class="yl" text-anchor="end">2016<tspan style="font-size:9px;font-family:sans-serif" dx="1">年</tspan></text>
<text transform="translate(193.65,812) rotate(-90)" class="yl" text-anchor="end">2017<tspan style="font-size:9px;font-family:sans-serif" dx="1">年</tspan></text>
<text transform="translate(212.35,812) rotate(-90)" class="yl" text-anchor="end">2018<tspan style="font-size:9px;font-family:sans-serif" dx="1">年</tspan></text>
<text transform="translate(231.05,812) rotate(-90)" class="yl" text-anchor="end">2019<tspan style="font-size:9px;font-family:sans-serif" dx="1">年</tspan></text>
<text transform="translate(249.75,812) rotate(-90)" class="yl" text-anchor="end">2020<tspan style="font-size:9px;font-family:sans-serif" dx="1">年</tspan></text>
<text transform="translate(268.45,812) rotate(-90)" class="yl" text-anchor="end">2021<tspan style="font-size:9px;font-family:sans-serif" dx="1">年</tspan></text>
<text transform="translate(287.15,812) rotate(-90)" class="yl" text-anchor="end">2022<tspan style="font-size:9px;font-family:sans-serif" dx="1">年</tspan></text>
<text transform="translate(305.85,812) rotate(-90)" class="yl" text-anchor="end">2023<tspan style="font-size:9px;font-family:sans-serif" dx="1">年</tspan></text>
<line x1="81.8" y1="733.2" x2="144.8" y2="733.2" stroke="#5a6698" stroke-width="1.6"/>
<line x1="256.8" y1="733.2" x2="320" y2="733.2" stroke="#5a6698" stroke-width="1.6"/>
<line x1="347.6" y1="759.8" x2="347.6" y2="803.7" stroke="#e2e2e2" stroke-width="1"/>
<line x1="366.55" y1="759.8" x2="366.55" y2="803.7" stroke="#e2e2e2" stroke-width="1"/>
<line x1="385.5" y1="759.8" x2="385.5" y2="803.7" stroke="#e2e2e2" stroke-width="1"/>
<line x1="404.45" y1="759.8" x2="404.45" y2="803.7" stroke="#e2e2e2" stroke-width="1"/>
<line x1="423.4" y1="759.8" x2="423.4" y2="803.7" stroke="#e2e2e2" stroke-width="1"/>
<line x1="442.35" y1="759.8" x2="442.35" y2="803.7" stroke="#e2e2e2" stroke-width="1"/>
<line x1="461.3" y1="759.8" x2="461.3" y2="803.7" stroke="#e2e2e2" stroke-width="1"/>
<line x1="480.25" y1="759.8" x2="480.25" y2="803.7" stroke="#e2e2e2" stroke-width="1"/>
<line x1="499.2" y1="759.8" x2="499.2" y2="803.7" stroke="#e2e2e2" stroke-width="1"/>
<line x1="518.15" y1="759.8" x2="518.15" y2="803.7" stroke="#e2e2e2" stroke-width="1"/>
<line x1="537.1" y1="759.8" x2="537.1" y2="803.7" stroke="#e2e2e2" stroke-width="1"/>
<line x1="556.05" y1="759.8" x2="556.05" y2="803.7" stroke="#e2e2e2" stroke-width="1"/>
<line x1="575" y1="759.8" x2="575" y2="803.7" stroke="#e2e2e2" stroke-width="1"/>
<line x1="347.6" y1="803.7" x2="575" y2="803.7" stroke="#d4d4d4" stroke-width="1"/>
<rect x="353.78" y="802.6" width="6.6" height="1.1" fill="#1f45e0"/>
<rect x="372.73" y="801.5" width="6.6" height="2.2" fill="#1f45e0"/>
<rect x="391.68" y="792.7" width="6.6" height="11" fill="#1f45e0"/>
<rect x="410.62" y="779.5" width="6.6" height="24.2" fill="#1f45e0"/>
<rect x="429.57" y="769.6" width="6.6" height="34.1" fill="#1f45e0"/>
<rect x="448.53" y="789.4" width="6.6" height="14.3" fill="#1f45e0"/>
<rect x="467.48" y="786.1" width="6.6" height="17.6" fill="#1f45e0"/>
<rect x="486.43" y="794.9" width="6.6" height="8.8" fill="#1f45e0"/>
<rect x="505.38" y="797.1" width="6.6" height="6.6" fill="#1f45e0"/>
<rect x="524.33" y="794.9" width="6.6" height="8.8" fill="#1f45e0"/>
<rect x="543.28" y="800.4" width="6.6" height="3.3" fill="#1f45e0"/>
<rect x="562.23" y="798.2" width="6.6" height="5.5" fill="#1f45e0"/>
<line x1="357.08" y1="789.98" x2="565.52" y2="794.51" stroke="#d24c94" stroke-width="2" stroke-dasharray="5.5 2.1"/>
<text transform="translate(361.78,789.6) rotate(-90)" class="vl">1</text>
<text transform="translate(380.73,788.6) rotate(-90)" class="vl">2</text>
<text transform="translate(399.68,785.5) rotate(-90)" class="vl">10</text>
<text transform="translate(418.62,773) rotate(-90)" class="vl">22</text>
<text transform="translate(437.57,762.8) rotate(-90)" class="vl">31</text>
<text transform="translate(456.53,782.5) rotate(-90)" class="vl">13</text>
<text transform="translate(475.48,778.9) rotate(-90)" class="vl">16</text>
<text transform="translate(494.43,788.2) rotate(-90)" class="vl">8</text>
<text transform="translate(513.38,790.4) rotate(-90)" class="vl">6</text>
<text transform="translate(532.33,788.2) rotate(-90)" class="vl">8</text>
<text transform="translate(551.28,791.4) rotate(-90)" class="vl">3</text>
<text transform="translate(570.23,791.8) rotate(-90)" class="vl">5</text>
<text transform="translate(361.08,812) rotate(-90)" class="yl" text-anchor="end">2012<tspan style="font-size:9px;font-family:sans-serif" dx="1">年</tspan></text>
<text transform="translate(380.03,812) rotate(-90)" class="yl" text-anchor="end">2013<tspan style="font-size:9px;font-family:sans-serif" dx="1">年</tspan></text>
<text transform="translate(398.98,812) rotate(-90)" class="yl" text-anchor="end">2014<tspan style="font-size:9px;font-family:sans-serif" dx="1">年</tspan></text>
<text transform="translate(417.93,812) rotate(-90)" class="yl" text-anchor="end">2015<tspan style="font-size:9px;font-family:sans-serif" dx="1">年</tspan></text>
<text transform="translate(436.88,812) rotate(-90)" class="yl" text-anchor="end">2016<tspan style="font-size:9px;font-family:sans-serif" dx="1">年</tspan></text>
<text transform="translate(455.83,812) rotate(-90)" class="yl" text-anchor="end">2017<tspan style="font-size:9px;font-family:sans-serif" dx="1">年</tspan></text>
<text transform="translate(474.78,812) rotate(-90)" class="yl" text-anchor="end">2018<tspan style="font-size:9px;font-family:sans-serif" dx="1">年</tspan></text>
<text transform="translate(493.73,812) rotate(-90)" class="yl" text-anchor="end">2019<tspan style="font-size:9px;font-family:sans-serif" dx="1">年</tspan></text>
<text transform="translate(512.67,812) rotate(-90)" class="yl" text-anchor="end">2020<tspan style="font-size:9px;font-family:sans-serif" dx="1">年</tspan></text>
<text transform="translate(531.62,812) rotate(-90)" class="yl" text-anchor="end">2021<tspan style="font-size:9px;font-family:sans-serif" dx="1">年</tspan></text>
<text transform="translate(550.58,812) rotate(-90)" class="yl" text-anchor="end">2022<tspan style="font-size:9px;font-family:sans-serif" dx="1">年</tspan></text>
<text transform="translate(569.52,812) rotate(-90)" class="yl" text-anchor="end">2023<tspan style="font-size:9px;font-family:sans-serif" dx="1">年</tspan></text>
<line x1="341.8" y1="733.2" x2="404.8" y2="733.2" stroke="#5a6698" stroke-width="1.6"/>
<line x1="516.8" y1="733.2" x2="580" y2="733.2" stroke="#5a6698" stroke-width="1.6"/>
</svg>
<div class="lab" style="left:74px;top:181px">算法</div>
<div class="lab" style="left:334px;top:539.5px">算力</div>
<div class="lab" style="left:74.5px;top:701px">数据</div>
<div class="pt" style="left:140.9px;top:209.7px">自然语言处理领域</div>
<div class="sm" style="left:120.9px;top:336.6px">共<span class="pk">936</span>起投资事件，<br>总投资额为<span class="pk">6,675亿</span>人民币</div>
<div class="pt" style="left:400.9px;top:209.7px">计算机视觉与图像</div>
<div class="sm" style="left:380.9px;top:337.6px">共<span class="pk">1,729</span>起投资事件，<br>总投资额为<span class="pk">3,200亿</span>人民币</div>
<div class="pt" style="left:140.9px;top:380.4px">机器学习领域</div>
<div class="sm" style="left:120.9px;top:504.7px">共<span class="pk">243</span>起投资事件，<br>总投资额为<span class="pk">692亿</span>人民币</div>
<div class="pt" style="left:400.9px;top:380.4px">深度学习领域</div>
<div class="sm" style="left:380.9px;top:504.7px">共<span class="pk">254</span>起投资事件，<br>总投资额为<span class="pk">1,177亿</span>人民币</div>
<div class="pt" style="left:140.9px;top:544.3px">模式识别领域</div>
<div class="sm" style="left:120.9px;top:667.8px">共<span class="pk">703</span>起投资事件，<br>总投资额为<span class="pk">1,699亿</span>人民币</div>
<div class="pt" style="left:402.3px;top:543.7px">算力领域</div>
<div class="sm" style="left:382.3px;top:668.2px">共<span class="pk">755</span>起投资事件，<br>总投资额为<span class="pk">4,531亿</span>人民币</div>
<div class="pt" style="left:140.9px;top:728.9px">数据平台领域</div>
<div class="sm" style="left:120.9px;top:856.6px">共<span class="pk">981</span>起投资事件，<br>总投资额为<span class="pk">1,496亿</span>人民币</div>
<div class="pt" style="left:400.9px;top:728.9px">数据挖掘领域</div>
<div class="sm" style="left:380.9px;top:857.6px">共<span class="pk">128</span>起投资事件，<br>总投资额为<span class="pk">326亿</span>人民币</div>
<div id="src">数据来源：IT桔子，中关村产业研究院，毕马威分析<br>*数据截止至2023年10月</div>
<div id="foot">© 2023 毕马威企业咨询 (中国) 有限公司 — 中国有限责任公司，是与英国私营担保有限公司 — 毕马威国际有限公司相关联的独立成员所全球性组织中的成员。版权所有，不得转载。</div>
</body></html>
